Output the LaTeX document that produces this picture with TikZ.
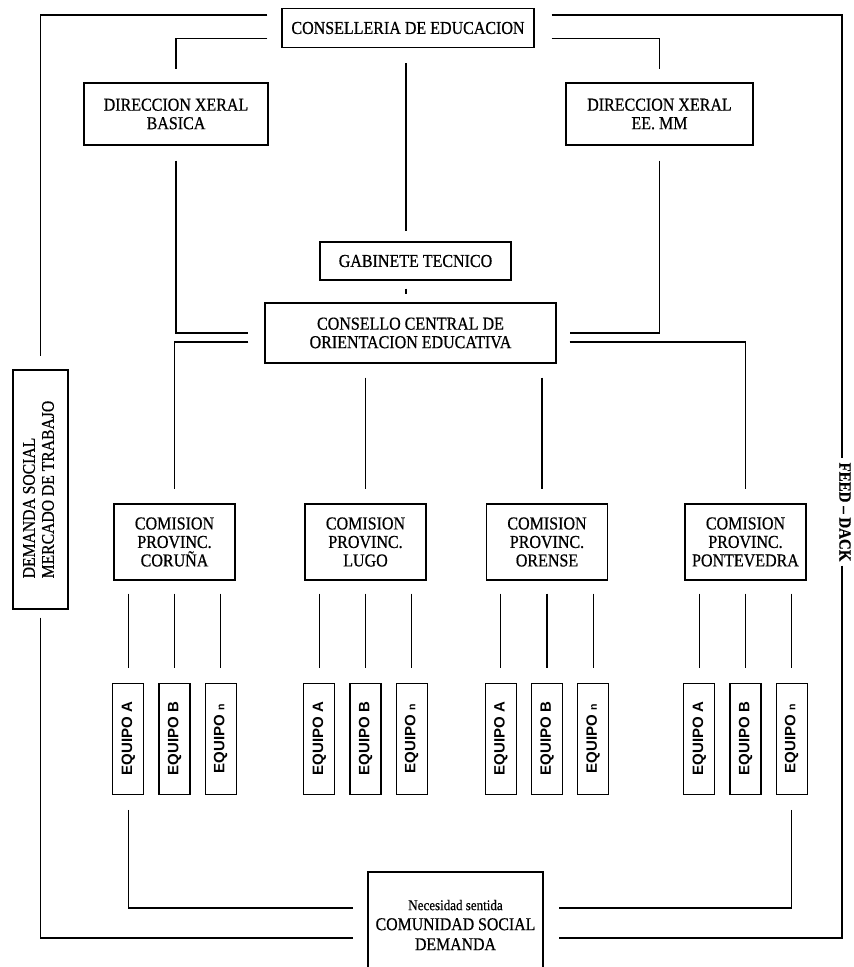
\documentclass[tikz,border=0pt]{standalone}
\usepackage{fontspec}
\setmainfont{Liberation Serif}[FakeStretch=0.88,FakeBold=0.6]
\setsansfont{Liberation Sans}
\usepackage{graphicx}
\usetikzlibrary{positioning}

\tikzset{
  box/.style={draw,line width=1.2pt,align=center,inner sep=0pt,font=\fontsize{18.2}{18.5}\selectfont},
  comision/.style={box,minimum width=121pt,minimum height=76pt},
  equipo/.style={draw,line width=1.2pt,minimum width=31pt,minimum height=111pt,inner sep=0pt,font=\sffamily\bfseries\fontsize{15}{16}\selectfont},
  link/.style={line width=1.2pt},
}
\newcommand{\eqtext}[1]{\rotatebox{90}{EQUIPO #1}}

\begin{document}
\begin{tikzpicture}[x=1pt,y=-1pt]
\useasboundingbox (0,0) rectangle (854,967);
\node[box,minimum width=252pt,minimum height=39pt] (consel) at (408,28) {CONSELLERIA DE EDUCACION};
\node[box,minimum width=184pt,minimum height=62pt] (dirbas) at (176,114) {DIRECCION XERAL\\BASICA};
\node[box,minimum width=187pt,minimum height=62pt] (dirmed) at (659.5,114) {DIRECCION XERAL\\EE. MM};
\node[box,minimum width=191pt,minimum height=38pt] (gabinete) at (415.5,261) {GABINETE TECNICO};
\node[box,minimum width=291pt,minimum height=60pt] (consello) at (410.5,333) {CONSELLO CENTRAL DE\\ORIENTACION EDUCATIVA};
\node[box,minimum width=55pt,minimum height=239pt,font=\fontsize{17.8}{19}\selectfont] (demanda) at (40.5,489.5)
  {\rotatebox{90}{\begin{tabular}{@{}l@{}}DEMANDA SOCIAL\\MERCADO DE TRABAJO\end{tabular}}};
\node[inner sep=4pt,font=\bfseries\fontsize{17}{18}\selectfont] (feed) at (845,512) {\rotatebox{-90}{FEED -- DACK}};
\node[box,minimum width=175pt,minimum height=106pt,font=\fontsize{18}{20}\selectfont] (necesidad) at (455.5,925)
  {{\fontsize{14.8}{16}\selectfont Necesidad sentida}\\COMUNIDAD SOCIAL\\DEMANDA};

% comisiones provinciales
\node[comision] (cor) at (174.5,542) {COMISION\\PROVINC.\\CORU\~NA};
\node[comision] (lugo) at (365.5,542) {COMISION\\PROVINC.\\LUGO};
\node[comision] (orense) at (547,542) {COMISION\\PROVINC.\\ORENSE};
\node[comision] (pont) at (745.5,542) {COMISION\\PROVINC.\\PONTEVEDRA};

% equipos
\foreach \c in {cor,lugo,orense,pont}{
  \node[equipo,below=102pt of \c] (\c B) {\eqtext{B}};
  \node[equipo,left=14pt of \c B] (\c A) {\eqtext{A}};
  \node[equipo,right=14pt of \c B] (\c N) {\eqtext{{\fontsize{10.5}{12}\selectfont n}}};
  \foreach \e in {A,B,N}
    \draw[link,shorten <=13pt,shorten >=15pt] (\c\e.north |- \c.south) -- (\c\e.north);
}

% lazo exterior
\draw[link,shorten <=14pt,shorten >=13pt] ([yshift=13pt]consel.west) -| (demanda.north);
\draw[link,shorten <=17pt] ([yshift=13pt]consel.east) -| ([xshift=-3pt]feed.north);
\draw[link,shorten <=8pt,shorten >=14pt] (demanda.south) |- ([yshift=-13pt]necesidad.west);
\draw[link,shorten >=15pt] ([xshift=-3pt]feed.south) |- ([yshift=-13pt]necesidad.east);

% organigrama
\draw[link,shorten <=14pt,shorten >=13pt] ([yshift=-10.5pt]consel.west) -| (dirbas.north);
\draw[link,shorten <=17pt,shorten >=13pt] ([yshift=-10.5pt]consel.east) -| (dirmed.north);
\draw[link,shorten <=15pt,shorten >=10pt] ([xshift=-2pt]consel.south) -- ([xshift=-2pt]consel.south |- gabinete.north);
\draw[link,shorten <=8pt,shorten >=8pt] ([xshift=-2pt]consel.south |- gabinete.south) -- ([xshift=-2pt]consel.south |- consello.north);
\draw[link,shorten <=15pt,shorten >=16pt] (dirbas.south) |- (consello.west);
\draw[link,shorten <=15pt,shorten >=13pt] (dirmed.south) |- (consello.east);
\draw[link,shorten <=16pt,shorten >=14pt] ([yshift=-9pt]consello.west) -| (cor.north);
\draw[link,shorten <=13pt,shorten >=14pt] ([yshift=-9pt]consello.east) -| (pont.north);
\draw[link,shorten <=14pt,shorten >=14pt] (consello.south -| lugo.north) -- (lugo.north);
\draw[link,shorten <=14pt,shorten >=14pt] ([xshift=-5pt]consello.south -| orense.north) -- ([xshift=-5pt]orense.north);
\draw[link,shorten <=15pt,shorten >=14pt] (corA.south) |- ([yshift=17pt]necesidad.west);
\draw[link,shorten <=15pt,shorten >=15pt] (pontN.south) |- ([yshift=17pt]necesidad.east);
\end{tikzpicture}
\end{document}
